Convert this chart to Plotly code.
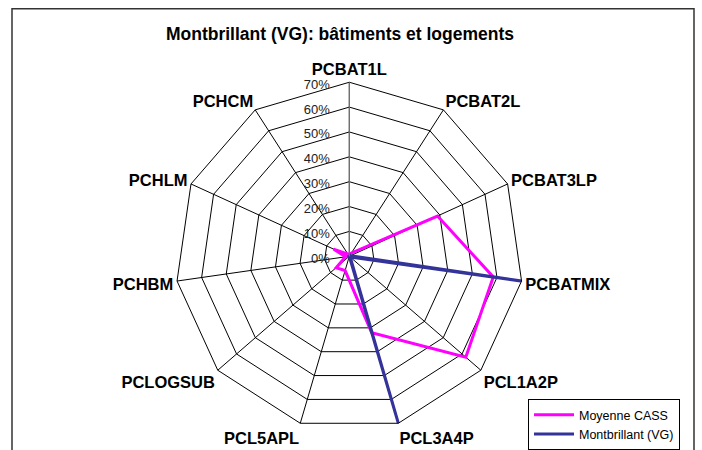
import plotly.graph_objects as go

categories = ["PCBAT1L", "PCBAT2L", "PCBAT3LP", "PCBATMIX", "PCL1A2P", "PCL3A4P",
              "PCL5APL", "PCLOGSUB", "PCHBM", "PCHLM", "PCHCM"]
moyenne_cass = [1, 1.5, 39, 58.5, 62, 32, 6, 7, 1.5, 7, 1]
montbrillant = [0, 0.5, 0.5, 71.5, 0.5, 72.5, 0, 0, 0, 0, 0.5]
radial_ticks = [0, 10, 20, 30, 40, 50, 60, 70]

FONT = "Liberation Sans, Arial, sans-serif"

fig = go.Figure()
fig.add_trace(go.Scatterpolar(
    r=moyenne_cass + moyenne_cass[:1], theta=categories + categories[:1],
    mode="lines", name="Moyenne CASS",
    line=dict(color="#FF00FF", width=3), cliponaxis=False))
fig.add_trace(go.Scatterpolar(
    r=montbrillant + montbrillant[:1], theta=categories + categories[:1],
    mode="lines", name="Montbrillant (VG)",
    line=dict(color="#333399", width=3), cliponaxis=False))

cx, cy, R = 349.3, 262.7, 178.4
W, H = 702, 450
fig.update_layout(
    width=W, height=H,
    margin=dict(l=0, r=0, t=0, b=0),
    paper_bgcolor="white",
    font=dict(family=FONT, color="black"),
    title=dict(text="<b>Montbrillant (VG): bâtiments et logements</b>",
               x=340 / W, xanchor="center", y=1 - 34 / H, yanchor="middle",
               font=dict(size=17.5, family=FONT, color="black")),
    polar=dict(
        domain=dict(x=[(cx - R) / W, (cx + R) / W],
                    y=[(H - cy - R) / H, (H - cy + R) / H]),
        bgcolor="white",
        gridshape="linear",
        radialaxis=dict(range=[0, 70], tickvals=radial_ticks,
                        ticktext=[f"{v}%\u00a0\u00a0" for v in radial_ticks],
                        angle=90, side="counterclockwise",
                        showline=True, linecolor="#808080", linewidth=1,
                        gridcolor="black", gridwidth=1, ticks="",
                        tickfont=dict(size=13, family=FONT, color="#222")),
        angularaxis=dict(direction="clockwise", rotation=90,
                         linecolor="black", linewidth=1,
                         gridcolor="black", gridwidth=1, ticks="",
                         tickfont=dict(size=16.5, family=FONT, color="black", weight="bold")),
    ),
    legend=dict(x=528 / W, y=1 - 409 / H, xanchor="left", yanchor="top",
                bordercolor="black", borderwidth=1, bgcolor="white",
                itemwidth=40,
                font=dict(size=12.5, family=FONT, color="black")),
    shapes=[dict(type="rect", xref="paper", yref="paper",
                 x0=12 / W, x1=694 / W, y0=-0.1, y1=1 - 9 / H,
                 line=dict(color="#333", width=1.5), layer="below")],
)

fig.write_html("out.html", config={"displayModeBar": False},
               post_script="document.body.style.margin='0';")
